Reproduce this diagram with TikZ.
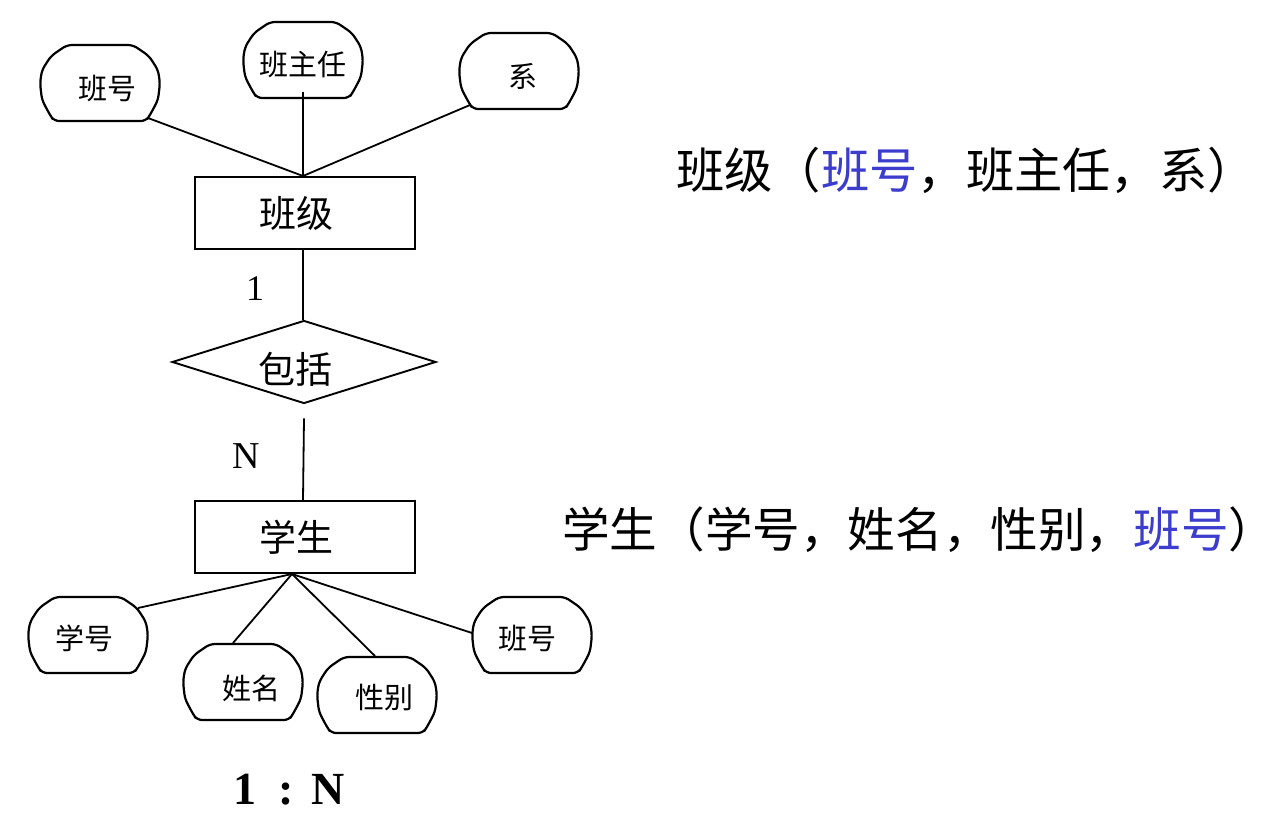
\documentclass[tikz,border=0pt]{standalone}
\usepackage{fontspec}
\setmainfont{Liberation Serif}
\newfontfamily\cjk{Noto Sans CJK SC}
\usetikzlibrary{shapes.geometric}
\definecolor{keyblue}{RGB}{60,60,205}
\newcommand\attroutline[1]{%
  \draw[attrline,shift={(#1.center)}] (-33,-38) -- (33,-38) -- (49,-27) -- (58,-13) -- (60,0)
    -- (58,17) -- (50,32) -- (46,38) -- (-46,38) -- (-50,32) -- (-58,17) -- (-60,0)
    -- (-58,-13) -- (-49,-27) -- cycle;}
\begin{document}
\begin{tikzpicture}[x=1pt,y=-1pt,
  ent/.style={draw,line width=2pt,minimum width=220pt,minimum height=72pt,inner sep=0pt},
  enttext/.style={font=\cjk\fontsize{37}{40}\selectfont,inner sep=0pt},
  attr/.style={ellipse,minimum width=120pt,minimum height=76pt,inner sep=0pt},
  attrline/.style={line width=2.2pt,rounded corners=5pt,line join=round},
  attrtext/.style={font=\cjk\fontsize{29}{31}\selectfont,inner sep=0pt},
  conn/.style={line width=1.8pt},
  card/.style={font=\fontsize{38}{40}\selectfont,inner sep=0pt},
  schema/.style={font=\cjk\fontsize{48.3}{50}\selectfont,inner sep=0pt,anchor=west}
]
\useasboundingbox (0,0) rectangle (1278,826);
\fill[white] (0,0) rectangle (1278,826);
% entities
\node[ent] (bj) at (305,213) {};
\node[enttext] (bjt) at (296,213) {班级};
\node[ent] (xs) at (305,537) {};
\node[enttext] (xst) at (296,537) {学生};
% relationship
\node[draw,line width=1.9pt,diamond,aspect=3.2,minimum width=264pt,minimum height=83pt,inner sep=0pt] (bk) at (304,362) {};
\node[enttext,fill=white,inner sep=1pt] (bkt) at (295,369) {包括};
% attributes of 班级
\node[attr] (a1) at (100,83) {};
\attroutline{a1}
\node[attrtext] (a1t) at (107,88) {班号};
\node[attr] (a2) at (303,60) {};
\attroutline{a2}
\node[attrtext] (a2t) at (303,64) {班主任};
\node[attr] (a3) at (519,71) {};
\attroutline{a3}
\node[attrtext] (a3t) at (523,76) {系};
% attributes of 学生
\node[attr] (b1) at (88,635) {};
\attroutline{b1}
\node[attrtext] (b1t) at (84,638) {学号};
\node[attr] (b2) at (243,682) {};
\attroutline{b2}
\node[attrtext] (b2t) at (251,688) {姓名};
\node[attr] (b3) at (377,695) {};
\attroutline{b3}
\node[attrtext] (b3t) at (384,698) {性别};
\node[attr] (b4) at (532,635) {};
\attroutline{b4}
\node[attrtext] (b4t) at (527,638) {班号};
% connection points
\coordinate (bjtop) at ([xshift=-2pt]bj.north);
\coordinate (xsbot) at ([xshift=-13pt]xs.south);
\coordinate (bkbot) at ([yshift=-14pt]bk.south);
% connectors
\draw[conn] ([shift={(48,35)}]a1.center) -- (bjtop);
\draw[conn] ([shift={(0,32)}]a2.center) -- (bjtop);
\draw[conn] ([shift={(-49,34)}]a3.center) -- (bjtop);
\draw[conn] ([xshift=-2pt]bj.south) -- ([xshift=-1pt]bk.north);
\draw[conn] (bkbot) -- ([xshift=-2pt]xs.north);
\draw[conn] (xsbot) -- ([shift={(50,-27)}]b1.center);
\draw[conn] (xsbot) -- ([shift={(-10,-39)}]b2.center);
\draw[conn] (xsbot) -- ([shift={(-2,-39)}]b3.center);
\draw[conn] (xsbot) -- ([shift={(-60,-2)}]b4.center);
% cardinalities
\node[card,font=\fontsize{36}{38}\selectfont] (c1) at (255,289) {1};
\node[card] (cn) at (246,456) {N};
\node[inner sep=0pt,anchor=west,font=\bfseries\fontsize{46}{48}\selectfont] (ratio) at (233,790) {1\hspace{22pt}:\hspace{18pt}N};
% relational schemas
\node[schema] (s1) at (676,170) {班级（\textcolor{keyblue}{班号}，班主任，系）};
\node[schema,font=\cjk\fontsize{47.6}{50}\selectfont] (s2) at (562,530) {学生（学号，姓名，性别，\textcolor{keyblue}{班号}）};
\end{tikzpicture}
\end{document}
